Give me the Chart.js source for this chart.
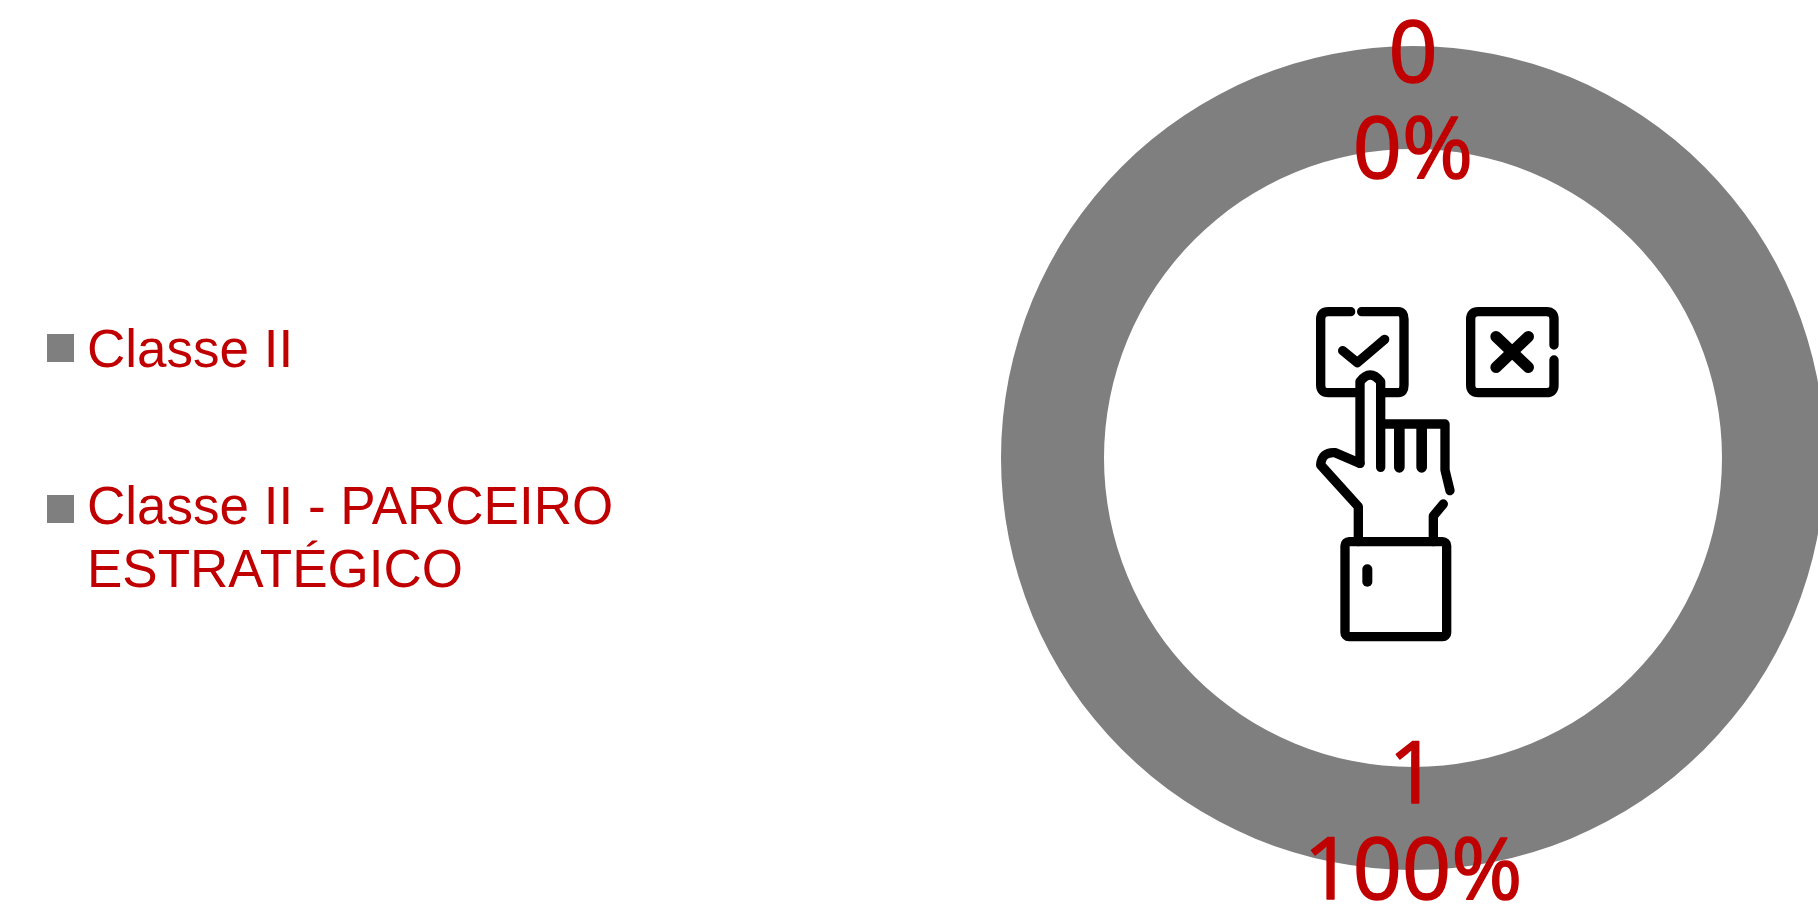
<!DOCTYPE html>
<html>
<head>
<meta charset="utf-8">
<script src="https://cdn.jsdelivr.net/npm/chart.js@4"></script>
<style>
  html, body { margin: 0; padding: 0; background: #fff; overflow: hidden; }
  #wrap { position: relative; width: 1818px; height: 908px; overflow: hidden; }
  #classChart { position: absolute; left: 0; top: 0; }
  #icon { position: absolute; left: 1280px; top: 280px; width: 320px; height: 380px; }
</style>
</head>
<body>
<div id="wrap">
  <canvas id="classChart" width="1840" height="908" style="width:1840px;height:908px"></canvas>
  <!-- hand icon in the middle of the ring -->
  <svg id="icon" viewBox="0 0 960 1140" fill="none" stroke="#000" stroke-width="28" stroke-linejoin="round" stroke-linecap="round">
    <path d="M212 95H145Q122 95 122 118V315Q122 338 145 338H355Q372 338 372 315V118Q372 95 355 95H245"/>
    <path d="M822 195V118Q822 95 800 95H595Q572 95 572 118V315Q572 338 595 338H800Q822 338 822 315V240"/>
    <path d="M188 212L232 248L314 178"/>
    <path d="M648 170L745 262M745 170L648 262" stroke-width="34"/>
    <path fill="#fff" stroke="none" d="M240 555V300Q270 270 305 300V440H495V575L510 640L470 690V785H235V680L125 560L150 520Z"/>
    <path d="M240 550V305Q270 265 302 305V562"/>
    <path d="M302 432H495V570L510 632"/>
    <path d="M358 440V562M425 440V562" stroke-width="32"/>
    <path d="M240 550L165 518Q125 515 122 555L235 680V785"/>
    <path d="M490 672L460 708V785"/>
    <rect x="195" y="785" width="305" height="285" rx="12"/>
    <path d="M262 868V905" stroke-width="30"/>
  </svg>
</div>

<script>
const categories = ["Classe II", "Classe II - PARCEIRO ESTRATÉGICO"];
const classValues = [0, 1];
const classPercents = ["0%", "100%"];
const sliceColors = ["#7F7F7F", "#7F7F7F"];

const textColor = "#C00000";


// =========================
// VALUE LABELS ON THE RING
// =========================
const ringLabels = {
  id: "ringLabels",
  afterDatasetsDraw(chart) {
    const ctx = chart.ctx;
    const arcs = chart.getDatasetMeta(0).data;

    ctx.save();
    ctx.fillStyle = textColor;
    ctx.strokeStyle = textColor;
    ctx.lineWidth = 1.5; // the reference digits are a bit heavier than regular
    ctx.lineJoin = "round";
    ctx.font = "86px 'Open Sans'";
    ctx.textAlign = "center";
    ctx.textBaseline = "alphabetic";

    arcs.forEach((arc, i) => {
      const mid = arc.tooltipPosition();
      [[String(classValues[i]), -16], [classPercents[i], 80]].forEach(([text, dy]) => {
        ctx.fillText(text, mid.x, mid.y + dy);
        ctx.strokeText(text, mid.x, mid.y + dy);
      });
    });
    ctx.restore();
  }
};


// =========================
// LEGEND (WRAPS LONG LABELS)
// =========================
function wrapLabel(ctx, text, maxWidth) {
  const lines = [];
  let line = "";

  text.split(" ").forEach(word => {
    const next = line ? line + " " + word : word;
    if (line && ctx.measureText(next).width > maxWidth) {
      lines.push(line);
      line = word;
    } else {
      line = next;
    }
  });
  lines.push(line);
  return lines;
}

const sideLegend = {
  id: "sideLegend",
  afterDraw(chart) {
    const ctx = chart.ctx;
    const firstLines = [367, 524];

    ctx.save();
    ctx.font = "53px 'Liberation Sans'";
    ctx.textBaseline = "alphabetic";

    categories.forEach((name, i) => {
      ctx.fillStyle = sliceColors[i];
      ctx.fillRect(47, [334, 495][i], 27, 28);

      ctx.fillStyle = textColor;
      wrapLabel(ctx, name, 560).forEach((line, n) => {
        ctx.fillText(line, 87, firstLines[i] + n * 63);
      });
    });
    ctx.restore();
  }
};


// =========================
// DOUGHNUT
// =========================
new Chart(document.getElementById("classChart").getContext("2d"), {
  type: "doughnut",
  data: {
    labels: categories,
    datasets: [{
      data: classValues,
      backgroundColor: sliceColors,
      borderWidth: 0
    }]
  },
  options: {
    responsive: false,
    animation: false,
    cutout: "75%",
    layout: { padding: { left: 1001, right: 15, top: 46, bottom: 38 } },
    plugins: {
      legend: { display: false },
      tooltip: { enabled: false }
    }
  },
  plugins: [ringLabels, sideLegend]
});
</script>
</body>
</html>
